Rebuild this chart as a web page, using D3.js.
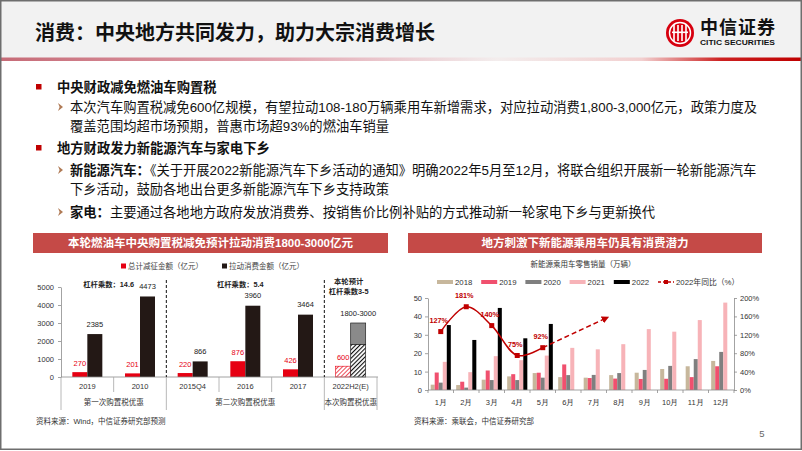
<!DOCTYPE html>
<html lang="zh">
<head>
  <meta charset="UTF-8" />
  <title>消费：中央地方共同发力，助力大宗消费增长</title>
  <script src="https://d3js.org/d3.v7.min.js"></script>
  <style>
    html, body { margin: 0; padding: 0; background: #fff; }
    svg { display: block; font-family: "Liberation Sans", "Noto Sans CJK SC", sans-serif; }
    .axis text { font-size: 7.5px; fill: #333; }
    .axis path, .axis line { stroke: #8c8c8c; stroke-width: 0.8; }
  </style>
</head>
<body>
  <svg id="slide" width="802" height="451"></svg>

  <script>
    // ---- slide text ----
    const headerTitle = "消费：中央地方共同发力，助力大宗消费增长";
    const bodyLines = [
      { kind: "bullet", parts: [["中央财政减免燃油车购置税", true]] },
      { kind: "arrow", parts: [["本次汽车购置税减免600亿规模，有望拉动108-180万辆乘用车新增需求，对应拉动消费1,800-3,000亿元，政策力度及", false]] },
      { kind: "cont", parts: [["覆盖范围均超市场预期，普惠市场超93%的燃油车销量", false]] },
      { kind: "bullet", parts: [["地方财政发力新能源汽车与家电下乡", true]] },
      { kind: "arrow", parts: [["新能源汽车：", true], ["《关于开展2022新能源汽车下乡活动的通知》明确2022年5月至12月，将联合组织开展新一轮新能源汽车", false]] },
      { kind: "cont", parts: [["下乡活动，鼓励各地出台更多新能源汽车下乡支持政策", false]] },
      { kind: "arrow", parts: [["家电：", true], ["主要通过各地地方政府发放消费券、按销售价比例补贴的方式推动新一轮家电下乡与更新换代", false]] }
    ];

    // ---- left chart data ----
    const taxTitle = "本轮燃油车中央购置税减免预计拉动消费1800-3000亿元";
    const taxCats = ["2019", "2010", "2015Q4", "2016", "2017", "2022H2(E)"];
    const taxCut = [270, 201, 220, 876, 426, 600];            // 总计减征金额（亿元）
    const consumeLow = [2385, 4473, 866, 3960, 3464, 1800];   // 拉动消费金额（亿元）
    const consumeHigh = [null, null, null, null, null, 3000];
    const consumeLabels = ["2385", "4473", "866", "3960", "3464", "1800-3000"];
    const taxGroups = ["第一次购置税优惠", "第二次购置税优惠", "本次购置税优惠"];
    const taxGroupOf = [0, 0, 1, 1, 1, 2];
    const leverNotes = [["杠杆乘数：14.6"], ["杠杆乘数：5.4"], ["本轮预计", "杠杆乘数3-5"]];
    const taxLegend = ["总计减征金额（亿元）", "拉动消费金额（亿元）"];
    const taxTicks = [0, 1000, 2000, 3000, 4000, 5000];

    // ---- right chart data ----
    const evTitle = "地方刺激下新能源乘用车仍具有消费潜力";
    const evSubtitle = "新能源乘用车零售销量（万辆）";
    const months = ["1月", "2月", "3月", "4月", "5月", "6月", "7月", "8月", "9月", "10月", "11月", "12月"];
    const evSeries = ["2018", "2019", "2020", "2021", "2022"];
    const ev2018 = [2.9, 2.7, 5.6, 7.4, 9.2, 7.0, 6.7, 8.1, 9.4, 11.4, 12.9, 15.8];
    const ev2019 = [9.5, 4.5, 10.6, 8.6, 9.4, 13.9, 6.5, 6.2, 6.0, 6.1, 7.0, 12.9];
    const ev2020 = [4.0, 1.3, 5.4, 5.4, 6.7, 8.1, 8.2, 9.2, 10.9, 13.1, 16.8, 20.7];
    const ev2021 = [15.3, 9.7, 18.4, 16.2, 18.7, 22.9, 22.1, 24.9, 33.1, 31.7, 38.0, 47.5];
    const ev2022 = [35.3, 27.2, 44.6, 28.1, 35.9];
    const yoy2022 = [127, 181, 140, 75, 92];                  // 2022年同比（%）
    const yoyTrend = [[4, 92], [6.55, 158]];                  // dashed arrow: [month index, %]
    const yoyLegend = "2022年同比（%）";
    const evTicks = [0, 10, 20, 30, 40, 50];
    const pctTicks = [0, 40, 80, 120, 160, 200];

    const RED = "#e60012", DARK = "#231815", BAR_TITLE = "#c54a47", LINE_RED = "#c00000";

    const svg = d3.select("#slide");
    const defs = svg.append("defs");

    // header gradient rule
    const grad = defs.append("linearGradient").attr("id", "rule");
    [[0, "#c66b77"], [0.35, "#e2a5b0"], [0.62, "#f3eded"], [0.8, "#f2d0d0"], [0.9, "#cc2020"], [1, "#bf0000"]]
      .forEach(([o, c]) => grad.append("stop").attr("offset", o).attr("stop-color", c));

    function hatch(id, color, w) {
      const p = defs.append("pattern").attr("id", id)
        .attr("patternUnits", "userSpaceOnUse").attr("width", 3).attr("height", 3)
        .attr("patternTransform", "rotate(45)");
      p.append("rect").attr("width", 3).attr("height", 3).attr("fill", "#fff");
      p.append("line").attr("x1", 0).attr("y1", 0).attr("x2", 0).attr("y2", 3)
        .attr("stroke", color).attr("stroke-width", w);
    }
    hatch("redHatch", RED, 1.4);
    hatch("darkHatch", "#111", 2.2);

    defs.append("marker").attr("id", "arrowHead").attr("viewBox", "0 0 10 10")
      .attr("refX", 8).attr("refY", 5).attr("markerWidth", 5).attr("markerHeight", 5)
      .attr("orient", "auto")
      .append("path").attr("d", "M0,0L10,5L0,10z").attr("fill", LINE_RED);

    // ---- page frame & header ----
    svg.append("rect").attr("width", 802).attr("height", 451).attr("fill", "#fff");
    svg.append("rect").attr("width", 802).attr("height", 58).attr("fill", "#f2f2f2");
    svg.append("rect").attr("x", 0).attr("y", 57.5).attr("width", 802).attr("height", 3.5).attr("fill", "url(#rule)");

    svg.append("text").attr("x", 35).attr("y", 33).attr("dominant-baseline", "central")
      .attr("font-size", 20).attr("font-weight", "bold").attr("fill", "#111").text(headerTitle);

    // logo
    const logo = svg.append("g");
    logo.append("circle").attr("cx", 680).attr("cy", 33).attr("r", 14).attr("fill", "#d7000f");
    logo.append("circle").attr("cx", 680).attr("cy", 33).attr("r", 10.5)
      .attr("fill", "none").attr("stroke", "#fff").attr("stroke-width", 1.4);
    [-6, -2, 2, 6].forEach(dx => {
      logo.append("rect").attr("x", 680 + dx - 0.8).attr("y", 25).attr("width", 1.6).attr("height", 16).attr("fill", "#fff");
    });
    logo.append("rect").attr("x", 672).attr("y", 31.5).attr("width", 16).attr("height", 1.6).attr("fill", "#fff");
    logo.append("text").attr("x", 700).attr("y", 27.5).attr("dominant-baseline", "central")
      .attr("font-size", 18).attr("font-weight", "bold").attr("fill", "#111")
      .attr("textLength", 75).text("中信证券");
    logo.append("text").attr("x", 700).attr("y", 42.5).attr("dominant-baseline", "central")
      .attr("font-size", 7.5).attr("font-weight", "bold").attr("fill", "#111")
      .attr("textLength", 75).attr("lengthAdjust", "spacingAndGlyphs").text("CITIC SECURITIES");

    // ---- body text ----
    const lineY = [87, 107, 126, 148, 170, 189, 212];
    bodyLines.forEach((ln, i) => {
      const y = lineY[i];
      if (ln.kind === "bullet") {
        svg.append("rect").attr("x", 36).attr("y", y - 3).attr("width", 5.5).attr("height", 5.5).attr("fill", "#c00000");
      } else if (ln.kind === "arrow") {
        svg.append("path").attr("d", `M58,${y - 4}L63,${y}L58,${y + 4}L59.6,${y}Z`).attr("fill", "#b07a55");
      }
      const t = svg.append("text").attr("x", ln.kind === "bullet" ? 57 : 70).attr("y", y)
        .attr("dominant-baseline", "central").attr("font-size", 13.3).attr("fill", "#111");
      ln.parts.forEach(([s, b]) => t.append("tspan").attr("font-weight", b ? "bold" : "normal").text(s));
    });

    // ---- chart title bars ----
    function titleBar(x0, x1, label) {
      svg.append("rect").attr("x", x0).attr("y", 233).attr("width", x1 - x0).attr("height", 20).attr("fill", BAR_TITLE);
      svg.append("text").attr("x", (x0 + x1) / 2).attr("y", 243).attr("text-anchor", "middle")
        .attr("dominant-baseline", "central").attr("font-size", 11.5).attr("font-weight", "bold")
        .attr("fill", "#fff").text(label);
    }
    titleBar(33, 388, taxTitle);
    titleBar(408, 762, evTitle);

    // ================= left chart =================
    const gL = svg.append("g");
    const xL = d3.scaleBand().domain(taxCats).range([61, 377]);
    const yL = d3.scaleLinear().domain([0, 5000]).range([377, 287]);
    const cx = c => xL(c) + xL.bandwidth() / 2;
    const barW = 15;

    // legend
    [[RED, taxLegend[0], 121], [DARK, taxLegend[1], 222]].forEach(([c, s, x]) => {
      gL.append("rect").attr("x", x).attr("y", 263.5).attr("width", 5).attr("height", 5).attr("fill", c);
      gL.append("text").attr("x", x + 7).attr("y", 266).attr("dominant-baseline", "central")
        .attr("font-size", 7.5).attr("fill", "#444").text(s);
    });

    gL.append("g").attr("class", "axis").attr("transform", "translate(61,0)")
      .call(d3.axisLeft(yL).tickValues(taxTicks).tickFormat(d3.format("d"))
        .tickSize(3).tickSizeOuter(0).tickPadding(4))
      .selectAll("text").attr("font-size", 8);

    // bars
    taxCats.forEach((c, i) => {
      const last = consumeHigh[i] != null;
      gL.append("rect").attr("x", cx(c) - barW).attr("y", yL(taxCut[i]))
        .attr("width", barW).attr("height", yL(0) - yL(taxCut[i]))
        .attr("fill", last ? "url(#redHatch)" : RED)
        .attr("stroke", last ? RED : "none").attr("stroke-width", 0.6);
      if (last) {
        gL.append("rect").attr("x", cx(c)).attr("y", yL(consumeHigh[i]))
          .attr("width", barW).attr("height", yL(consumeLow[i]) - yL(consumeHigh[i]))
          .attr("fill", "#8a8a8a").attr("stroke", "#222").attr("stroke-width", 0.7);
        gL.append("rect").attr("x", cx(c)).attr("y", yL(consumeLow[i]))
          .attr("width", barW).attr("height", yL(0) - yL(consumeLow[i]))
          .attr("fill", "url(#darkHatch)").attr("stroke", "#222").attr("stroke-width", 0.7);
      } else {
        gL.append("rect").attr("x", cx(c)).attr("y", yL(consumeLow[i]))
          .attr("width", barW).attr("height", yL(0) - yL(consumeLow[i])).attr("fill", DARK);
      }
      gL.append("text").attr("x", cx(c) - barW / 2).attr("y", yL(taxCut[i]) - 9)
        .attr("text-anchor", "middle").attr("dominant-baseline", "central")
        .attr("font-size", 7.5).attr("fill", RED).text(taxCut[i]);
      const top = last ? consumeHigh[i] : consumeLow[i];
      gL.append("text").attr("x", cx(c) + barW / 2).attr("y", yL(top) - 10)
        .attr("text-anchor", "middle").attr("dominant-baseline", "central")
        .attr("font-size", 7.5).attr("fill", "#222").text(consumeLabels[i]);
    });

    // baseline + category/group axis
    gL.append("line").attr("x1", 61).attr("x2", 378).attr("y1", 377).attr("y2", 377)
      .attr("stroke", "#8c8c8c").attr("stroke-width", 0.8);
    const bounds = taxCats.map(c => xL(c)).concat([xL.range()[1]]);
    bounds.forEach((bx, k) => {
      const groupEdge = k === 0 || k === taxCats.length || taxGroupOf[k] !== taxGroupOf[k - 1];
      gL.append("line").attr("x1", bx).attr("x2", bx).attr("y1", 377).attr("y2", groupEdge ? 410 : 392)
        .attr("stroke", "#a6a6a6").attr("stroke-width", 0.8);
      if (groupEdge && k > 0 && k < taxCats.length) {
        gL.append("line").attr("x1", bx).attr("x2", bx).attr("y1", 280).attr("y2", 377)
          .attr("stroke", "#111").attr("stroke-width", 1).attr("stroke-dasharray", "3,2");
      }
    });
    taxCats.forEach(c => {
      gL.append("text").attr("x", cx(c)).attr("y", 386).attr("text-anchor", "middle")
        .attr("dominant-baseline", "central").attr("font-size", 7.5).attr("fill", "#333").text(c);
    });
    taxGroups.forEach((gname, gi) => {
      const members = taxCats.filter((c, i) => taxGroupOf[i] === gi);
      const gx = (xL(members[0]) + xL(members[members.length - 1]) + xL.bandwidth()) / 2;
      gL.append("text").attr("x", gx).attr("y", 402).attr("text-anchor", "middle")
        .attr("dominant-baseline", "central").attr("font-size", 7.5).attr("fill", "#333").text(gname);
      const note = gL.append("text").attr("text-anchor", "middle").attr("font-size", 7.3)
        .attr("font-weight", "bold").attr("fill", "#222");
      leverNotes[gi].forEach((s, li) => {
        note.append("tspan").attr("x", leverNotes[gi].length > 1 ? gx - 2 : gx - 5)
          .attr("y", (leverNotes[gi].length > 1 ? 281 : 284) + li * 10)
          .attr("dominant-baseline", "central").text(s);
      });
    });

    svg.append("text").attr("x", 36).attr("y", 421).attr("dominant-baseline", "central")
      .attr("font-size", 7.5).attr("fill", "#333").text("资料来源：Wind，中信证券研究部预测");

    // ================= right chart =================
    const gR = svg.append("g");
    const xR = d3.scaleBand().domain(months).range([428, 734]).paddingInner(0.21).paddingOuter(0.105);
    const xS = d3.scaleBand().domain(evSeries).range([0, xR.bandwidth()]);
    const yR = d3.scaleLinear().domain([0, 50]).range([390, 298]);
    const yP = d3.scaleLinear().domain([0, 200]).range([390, 298]);
    const mid = m => xR(m) + xR.bandwidth() / 2;
    const xIdx = d3.scaleLinear().domain([0, months.length - 1]).range([mid(months[0]), mid(months[months.length - 1])]);
    const evColors = { "2018": "#c7b79c", "2019": "#f0506e", "2020": "#7f7f7f", "2021": "#f7b3b8", "2022": "#000" };
    const evData = { "2018": ev2018, "2019": ev2019, "2020": ev2020, "2021": ev2021, "2022": ev2022 };

    gR.append("text").attr("x", 583).attr("y", 264).attr("text-anchor", "middle")
      .attr("dominant-baseline", "central").attr("font-size", 7.5).attr("fill", "#333").text(evSubtitle);

    // legend
    const legX = i => 437 + i * 44.2;
    evSeries.forEach((s, i) => {
      gR.append("rect").attr("x", legX(i)).attr("y", 280).attr("width", 16).attr("height", 4).attr("fill", evColors[s]);
      gR.append("text").attr("x", legX(i) + 18).attr("y", 282).attr("dominant-baseline", "central")
        .attr("font-size", 7.8).attr("fill", "#333").text(s);
    });
    const lx = legX(evSeries.length);
    gR.append("line").attr("x1", lx).attr("x2", lx + 16).attr("y1", 282).attr("y2", 282)
      .attr("stroke", LINE_RED).attr("stroke-width", 1.5).attr("stroke-dasharray", "3,2");
    gR.append("rect").attr("x", lx + 6).attr("y", 280).attr("width", 4).attr("height", 4).attr("fill", LINE_RED);
    gR.append("text").attr("x", lx + 18).attr("y", 282).attr("dominant-baseline", "central")
      .attr("font-size", 7.8).attr("fill", "#333").text(yoyLegend);

    // bars
    evSeries.forEach(s => {
      gR.selectAll(null).data(evData[s].map((v, i) => ({ m: months[i], v })))
        .join("rect")
        .attr("x", d => xR(d.m) + xS(s)).attr("y", d => yR(d.v))
        .attr("width", xS.bandwidth()).attr("height", d => yR(0) - yR(d.v))
        .attr("fill", evColors[s]);
    });

    // axes
    gR.append("g").attr("class", "axis").attr("transform", "translate(428,0)")
      .call(d3.axisLeft(yR).tickValues(evTicks).tickSize(3).tickSizeOuter(0).tickPadding(3));
    gR.append("g").attr("class", "axis").attr("transform", "translate(734,0)")
      .call(d3.axisRight(yP).tickValues(pctTicks).tickSize(3).tickSizeOuter(0).tickPadding(3).tickFormat(d => d + "%"))
      .selectAll("text").attr("font-size", 7);
    const xa = gR.append("g").attr("class", "axis").attr("transform", "translate(0,390)")
      .call(d3.axisBottom(xR).tickSize(0).tickSizeOuter(0));
    xa.select(".domain").attr("d", "M428,0H734");
    xa.selectAll("text").attr("y", 12).attr("dy", null).attr("dominant-baseline", "central").attr("font-size", 8);
    months.concat(["end"]).forEach((m, i) => {
      const bx = 428 + i * (306 / months.length);
      gR.append("line").attr("x1", bx).attr("x2", bx).attr("y1", 390).attr("y2", 393)
        .attr("stroke", "#8c8c8c").attr("stroke-width", 0.8);
    });

    // 2022 YoY line
    const yoyPts = yoy2022.map((v, i) => [mid(months[i]), yP(v)]);
    gR.append("path").attr("d", d3.line().curve(d3.curveCatmullRom.alpha(0.5))(yoyPts))
      .attr("fill", "none").attr("stroke", LINE_RED).attr("stroke-width", 1.5);
    gR.append("line")
      .attr("x1", xIdx(yoyTrend[0][0])).attr("y1", yP(yoyTrend[0][1]))
      .attr("x2", xIdx(yoyTrend[1][0])).attr("y2", yP(yoyTrend[1][1]))
      .attr("stroke", LINE_RED).attr("stroke-width", 1.5).attr("stroke-dasharray", "5,3")
      .attr("marker-end", "url(#arrowHead)");
    gR.selectAll(null).data(yoyPts).join("rect")
      .attr("x", d => d[0] - 2.5).attr("y", d => d[1] - 2.5).attr("width", 5).attr("height", 5)
      .attr("fill", LINE_RED);
    gR.selectAll(null).data(yoy2022).join("text")
      .attr("x", (d, i) => yoyPts[i][0] - 2).attr("y", (d, i) => yoyPts[i][1] - 11)
      .attr("text-anchor", "middle").attr("dominant-baseline", "central")
      .attr("font-size", 7.3).attr("font-weight", "bold").attr("fill", LINE_RED)
      .text(d => d + "%");

    svg.append("text").attr("x", 414).attr("y", 421).attr("dominant-baseline", "central")
      .attr("font-size", 7.5).attr("fill", "#333").text("资料来源：乘联会，中信证券研究部");

    svg.append("text").attr("x", 762).attr("y", 433).attr("text-anchor", "middle")
      .attr("dominant-baseline", "central").attr("font-size", 9.5).attr("fill", "#666").text("5");

    // frame
    svg.append("rect").attr("x", 0.75).attr("y", 0.75).attr("width", 800.5).attr("height", 448.5)
      .attr("fill", "none").attr("stroke", "#6e6e6e").attr("stroke-width", 1.5);
  </script>
</body>
</html>
